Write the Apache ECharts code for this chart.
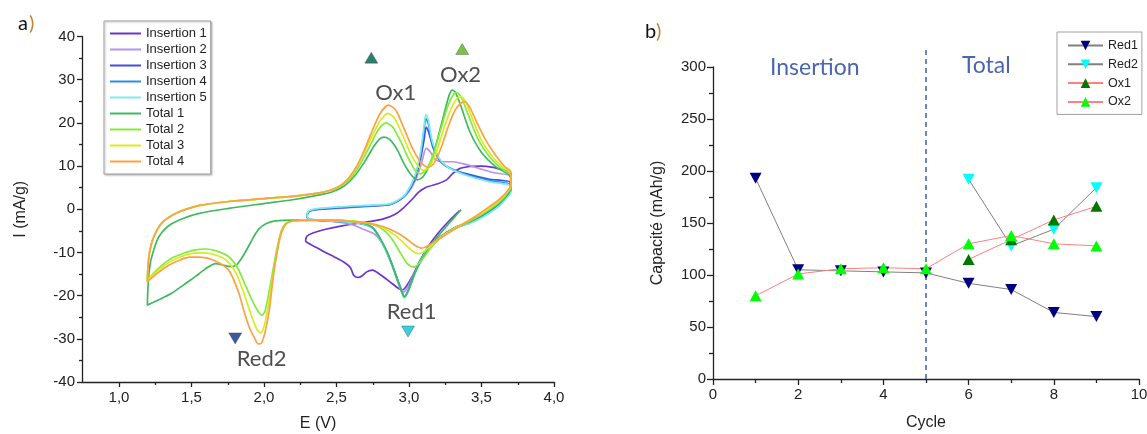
<!DOCTYPE html>
<html><head><meta charset="utf-8">
<script src="https://cdn.jsdelivr.net/npm/echarts/dist/echarts.min.js"></script>
<style>html,body{margin:0;padding:0;background:#fff}#c{width:1147px;height:434px}</style>
</head><body><div id="c"></div>
<script>
// ================= DATA =================
// Panel a) cyclic voltammograms: [E (V), I (mA/g)]
const insertion1 = [[3.35,-0.3],[3.28,-2.6],[3.2,-5.6],[3.13,-8.8],[3.07,-12.5],[3.02,-15.8],[2.98,-18.0],[2.955,-18.7],[2.92,-18.1],[2.87,-16.8],[2.81,-15.3],[2.75,-14.1],[2.71,-14.5],[2.68,-15.4],[2.65,-15.8],[2.62,-15.3],[2.6,-13.6],[2.56,-12.4],[2.49,-11.1],[2.42,-9.9],[2.35,-8.6],[2.3,-7.7],[2.29,-7.3],[2.3,-6.2],[2.34,-5.5],[2.42,-4.7],[2.55,-3.8],[2.7,-3.0],[2.82,-2.3],[2.9,-1.3],[2.96,0.2],[3.02,2.2],[3.07,4.0],[3.12,5.1],[3.2,5.9],[3.26,6.8],[3.3,8.2],[3.35,9.4],[3.42,9.9],[3.5,10.0],[3.58,9.7],[3.65,9.1],[3.7,8.6],[3.705,6.5],[3.69,4.3],[3.63,2.0],[3.55,0.0],[3.45,-2.2],[3.35,-3.9],[3.25,-5.5]];
const insertion2 = [[3.7,4.3],[3.62,1.2],[3.52,-1.2],[3.42,-3.0],[3.32,-4.4],[3.22,-6.2],[3.15,-8.3],[3.09,-11.2],[3.04,-14.6],[3.0,-17.6],[2.965,-19.2],[2.94,-17.8],[2.9,-14.0],[2.86,-10.6],[2.82,-8.0],[2.77,-5.9],[2.7,-4.8],[2.61,-3.6],[2.5,-2.9],[2.4,-2.6],[2.31,-2.3],[2.3,-1.6],[2.31,-0.6],[2.36,-0.1],[2.5,0.2],[2.7,0.6],[2.86,1.1],[2.94,2.2],[3.0,4.0],[3.05,7.0],[3.09,11.0],[3.12,14.1],[3.15,13.2],[3.18,11.6],[3.23,11.0],[3.3,11.0],[3.38,10.5],[3.48,9.5],[3.58,8.5],[3.7,7.6],[3.7,4.3]];
const insertion3 = [[3.7,4.0],[3.62,1.0],[3.52,-1.4],[3.42,-3.1],[3.32,-4.2],[3.22,-6.4],[3.14,-8.6],[3.08,-11.8],[3.04,-14.8],[3.0,-18.5],[2.97,-20.3],[2.94,-18.0],[2.89,-13.3],[2.85,-10.0],[2.82,-7.9],[2.78,-5.5],[2.75,-4.2],[2.68,-3.4],[2.6,-3.0],[2.45,-2.7],[2.32,-2.4],[2.3,-1.8],[2.31,-0.6],[2.36,-0.1],[2.5,0.3],[2.7,0.7],[2.86,1.0],[2.93,2.0],[2.98,3.4],[3.04,6.8],[3.08,11.5],[3.105,16.0],[3.12,19.0],[3.14,17.5],[3.17,14.0],[3.22,11.0],[3.28,9.5],[3.4,8.2],[3.55,7.0],[3.7,6.2],[3.7,4.0]];
const insertion4 = [[3.7,3.8],[3.62,0.8],[3.52,-1.5],[3.42,-3.2],[3.32,-4.3],[3.22,-6.5],[3.14,-8.7],[3.08,-11.9],[3.04,-15.0],[3.0,-18.6],[2.97,-20.4],[2.94,-18.1],[2.89,-13.4],[2.85,-10.1],[2.82,-8.0],[2.78,-5.6],[2.75,-4.3],[2.68,-3.4],[2.6,-3.0],[2.45,-2.7],[2.32,-2.4],[2.3,-1.8],[2.31,-0.5],[2.36,0.0],[2.5,0.4],[2.7,0.8],[2.86,1.1],[2.93,2.1],[2.98,3.5],[3.04,7.2],[3.08,12.5],[3.1,17.0],[3.118,21.0],[3.135,19.8],[3.16,15.5],[3.21,11.6],[3.28,9.6],[3.4,8.0],[3.55,6.7],[3.7,5.7],[3.7,3.8]];
const insertion5 = [[3.7,3.6],[3.62,0.7],[3.52,-1.6],[3.42,-3.3],[3.32,-4.4],[3.22,-6.6],[3.14,-8.8],[3.08,-12.0],[3.04,-15.1],[3.0,-18.7],[2.97,-20.5],[2.94,-18.2],[2.89,-13.5],[2.85,-10.2],[2.82,-8.1],[2.78,-5.7],[2.75,-4.3],[2.68,-3.4],[2.6,-3.0],[2.45,-2.7],[2.32,-2.3],[2.3,-1.7],[2.31,-0.4],[2.36,0.1],[2.5,0.5],[2.7,0.9],[2.86,1.2],[2.93,2.2],[2.98,3.6],[3.04,7.5],[3.08,13.0],[3.1,18.0],[3.118,22.0],[3.135,20.6],[3.16,16.0],[3.21,11.8],[3.28,9.5],[3.4,7.8],[3.55,6.4],[3.7,5.3],[3.7,3.6]];
const total1 = [[3.36,-0.1],[3.3,-2.4],[3.22,-5.5],[3.15,-8.4],[3.09,-11.6],[3.04,-15.0],[3.0,-18.6],[2.97,-20.3],[2.94,-18.0],[2.89,-13.3],[2.85,-9.8],[2.81,-7.2],[2.77,-5.0],[2.72,-3.6],[2.62,-2.8],[2.45,-2.5],[2.2,-2.5],[2.08,-2.7],[2.02,-3.3],[1.97,-4.5],[1.93,-6.5],[1.89,-9.0],[1.85,-11.3],[1.81,-13.0],[1.77,-13.3],[1.72,-12.9],[1.67,-12.6],[1.6,-13.8],[1.53,-15.6],[1.45,-17.5],[1.37,-19.4],[1.29,-20.8],[1.2,-22.2],[1.205,-17.5],[1.22,-12.5],[1.25,-8.8],[1.28,-6.3],[1.34,-4.0],[1.42,-2.5],[1.55,-1.0],[1.76,0.2],[2.0,1.3],[2.2,2.2],[2.35,3.1],[2.47,4.0],[2.56,5.5],[2.63,7.8],[2.7,11.2],[2.76,14.6],[2.8,16.3],[2.83,16.7],[2.87,16.1],[2.92,13.8],[2.97,10.4],[3.02,7.8],[3.06,6.8],[3.1,7.6],[3.15,10.8],[3.2,16.5],[3.25,23.0],[3.28,26.6],[3.3,27.6],[3.32,27.1],[3.36,23.8],[3.42,18.0],[3.5,13.2],[3.6,9.8],[3.7,7.6],[3.705,5.5],[3.69,3.8],[3.62,1.3],[3.52,-1.0],[3.42,-2.9],[3.32,-4.3],[3.25,-5.6]];
const total2 = [[1.2,-16.8],[1.205,-13],[1.215,-10],[1.236,-7.1],[1.27,-4.6],[1.31,-2.8],[1.38,-1.2],[1.45,-0.2],[1.56,0.9],[1.76,1.8],[2.02,2.5],[2.2,3.0],[2.35,3.6],[2.46,4.4],[2.55,5.8],[2.62,8.0],[2.68,11.3],[2.74,15.2],[2.79,18.4],[2.845,20.0],[2.89,19.0],[2.95,15.3],[3.0,11.6],[3.04,9.2],[3.08,8.2],[3.12,9.2],[3.17,12.8],[3.22,18.5],[3.27,24.0],[3.31,26.7],[3.33,27.0],[3.36,26.1],[3.41,21.8],[3.48,16.0],[3.56,12.0],[3.64,9.4],[3.7,8.0],[3.705,5.8],[3.69,4.3],[3.62,1.6],[3.52,-0.8],[3.42,-2.7],[3.32,-4.5],[3.22,-6.6],[3.15,-9.0],[3.09,-11.8],[3.035,-13.4],[2.99,-12.6],[2.94,-10.0],[2.89,-7.2],[2.84,-5.2],[2.78,-3.9],[2.7,-3.1],[2.58,-2.7],[2.4,-2.5],[2.25,-2.6],[2.18,-2.9],[2.15,-3.4],[2.12,-5.2],[2.09,-9.5],[2.06,-15.0],[2.03,-20.6],[2.01,-23.6],[1.99,-24.5],[1.96,-23.5],[1.92,-21.0],[1.87,-17.2],[1.82,-13.5],[1.76,-11.0],[1.68,-9.7],[1.6,-9.2],[1.53,-9.4],[1.45,-10.2],[1.37,-11.3],[1.3,-13.0],[1.24,-14.9],[1.2,-16.8]];
const total3 = [[1.2,-16.8],[1.205,-13],[1.215,-10],[1.236,-7.1],[1.27,-4.6],[1.31,-2.8],[1.38,-1.2],[1.45,-0.2],[1.56,0.9],[1.76,1.8],[2.02,2.5],[2.2,3.0],[2.35,3.6],[2.46,4.4],[2.55,6.0],[2.62,8.6],[2.68,12.2],[2.74,16.4],[2.8,20.3],[2.855,22.2],[2.9,21.2],[2.96,17.0],[3.01,13.0],[3.06,10.2],[3.1,9.0],[3.14,9.8],[3.19,13.2],[3.24,18.5],[3.29,23.2],[3.33,25.6],[3.36,26.0],[3.39,25.0],[3.44,20.8],[3.5,16.0],[3.58,12.0],[3.65,9.7],[3.7,8.4],[3.705,6.0],[3.69,4.5],[3.62,1.9],[3.52,-0.5],[3.42,-2.4],[3.32,-4.3],[3.22,-6.4],[3.15,-8.5],[3.1,-9.9],[3.07,-10.3],[3.03,-9.8],[2.98,-8.3],[2.92,-6.4],[2.85,-4.8],[2.78,-3.7],[2.7,-3.1],[2.58,-2.7],[2.4,-2.5],[2.25,-2.6],[2.18,-2.9],[2.15,-3.6],[2.12,-5.8],[2.09,-10.5],[2.06,-16.5],[2.03,-22.8],[2.005,-27.0],[1.98,-28.7],[1.95,-27.5],[1.91,-24.0],[1.86,-19.0],[1.81,-14.8],[1.75,-12.0],[1.67,-10.6],[1.58,-10.1],[1.51,-10.2],[1.43,-11.0],[1.35,-12.3],[1.28,-14.0],[1.22,-15.8],[1.2,-16.8]];
const total4 = [[1.2,-16.8],[1.205,-13],[1.215,-10],[1.236,-7.1],[1.27,-4.6],[1.31,-2.8],[1.38,-1.2],[1.45,-0.2],[1.56,0.9],[1.76,1.8],[2.02,2.5],[2.2,3.0],[2.35,3.6],[2.46,4.4],[2.55,6.0],[2.62,8.8],[2.68,12.6],[2.74,17.5],[2.8,22.0],[2.86,24.1],[2.91,23.0],[2.96,19.3],[3.02,14.5],[3.08,11.0],[3.13,9.7],[3.17,10.5],[3.22,14.0],[3.27,19.0],[3.32,23.0],[3.36,24.6],[3.385,24.9],[3.42,23.6],[3.47,20.0],[3.53,16.0],[3.6,12.4],[3.66,9.9],[3.7,8.8],[3.705,6.2],[3.69,4.7],[3.62,2.2],[3.52,-0.2],[3.44,-2.1],[3.32,-4.5],[3.22,-6.6],[3.16,-7.9],[3.09,-9.0],[3.04,-8.3],[2.98,-6.7],[2.9,-5.1],[2.82,-4.0],[2.72,-3.2],[2.63,-2.9],[2.45,-2.5],[2.25,-2.6],[2.18,-2.9],[2.14,-4.0],[2.11,-7.0],[2.08,-12.5],[2.06,-17.5],[2.04,-23.3],[2.01,-28.5],[1.985,-31.0],[1.965,-31.2],[1.935,-29.6],[1.9,-27.2],[1.86,-23.0],[1.83,-19.4],[1.76,-14.1],[1.65,-11.7],[1.56,-11.1],[1.49,-11.1],[1.42,-11.8],[1.35,-12.9],[1.27,-14.8],[1.2,-16.8]];
const cvNames = ['Insertion 1','Insertion 2','Insertion 3','Insertion 4','Insertion 5','Total 1','Total 2','Total 3','Total 4'];

// Panel a) peak annotations (label, E, I)
const peakLabels = ['Ox1','Ox2','Red1','Red2'];
const peakLabelE = [2.91, 3.357, 3.02, 1.987];
const peakLabelI = [26.9, 31.1, -23.7, -34.6];
const peakMarkE = [2.742, 3.368, 2.995, 1.805];
const peakMarkI = [35.1, 37.1, -28.3, -29.9];

// Panel b) capacity vs cycle
const cycles = [1,2,3,4,5,6,7,8,9];
const red1 = [193,105,104,103,102,92,86,64,60];
const red2 = [null,null,null,null,null,192,128,144,184];
const ox1  = [null,null,null,null,null,115,134,153,166];
const ox2  = [80,101,106,107,106,130,138,130,128];
const phaseLimit = 5;

// ================= CHART =================
const FONT = 'Liberation Sans, Arial, sans-serif';
const cvColors = ['#6d35cc','#b492f0','#3f4fe4','#2b8de8','#7eeaea','#3dbb5c','#84ea3c','#d6ec22','#ffa043'];
const cvData = [insertion1,insertion2,insertion3,insertion4,insertion5,total1,total2,total3,total4];
const downTri = 'path://M0,0L10,0L5,9Z';
const upTri = 'path://M5,0L10,9L0,9Z';
const axisLineStyle = {color:'#222', width:1.3};
const lblStyle = {color:'#222', fontSize:15, fontFamily:FONT};
const nameStyle = {fontSize:16, fontFamily:FONT, color:'#222'};

const series = [];
cvData.forEach((d,i)=>{
  series.push({name:cvNames[i], type:'line', xAxisIndex:0, yAxisIndex:0, data:d,
    symbol:'none', smooth:0.25, lineStyle:{color:cvColors[i], width:1.7}, itemStyle:{color:cvColors[i]}, z:2+i});
});
// peak triangles
const markColors = ['#2c7c6f','#7cc247','#38cfe0','#3c5b9c'];
series.push({type:'scatter', xAxisIndex:0, yAxisIndex:0, z:20, silent:true,
  data: peakLabels.map((n,i)=>({value:[peakMarkE[i], peakMarkI[i]], symbol: n.startsWith('Ox')?upTri:downTri,
    itemStyle:{color:markColors[i], opacity:1, borderColor:'rgba(60,60,60,0.6)', borderWidth:0.6}})),
  symbolSize:[13,11]});
series.push({type:'scatter', xAxisIndex:0, yAxisIndex:0, z:21, silent:true, symbolSize:0,
  data: peakLabels.map((n,i)=>({name:n, value:[peakLabelE[i], peakLabelI[i]]})),
  label:{show:true, position:'inside', formatter:'{b}', fontSize:22, fontFamily:'Lato, sans-serif', color:'#222'}});

// Panel b
function pairs(arr){ return cycles.map((c,i)=>[c, arr[i]]); }
const capSeries = [
  ['Red1', red1, '#000080', '#808080', downTri],
  ['Red2', red2, '#00ffff', '#808080', downTri],
  ['Ox1',  ox1,  '#007800', '#ff8080', upTri],
  ['Ox2',  ox2,  '#00ff00', '#ff8080', upTri]
];
capSeries.forEach(s=>{
  series.push({name:s[0], type:'line', xAxisIndex:2, yAxisIndex:2, data:pairs(s[1]),
    symbol:s[4], symbolSize:[12,11], showAllSymbol:true,
    lineStyle:{color:s[3], width:1}, itemStyle:{color:s[2], opacity:1}, z:10});
});
series.push({type:'line', xAxisIndex:3, yAxisIndex:3, data:[[phaseLimit,0],[phaseLimit,1]], symbol:'none', silent:true,
  lineStyle:{color:'#4466bb', width:1.6, type:[5,4]}, z:5});

const gridBase = {containLabel:false, outerBoundsMode:'none'};
const option = {
  animation:false,
  backgroundColor:'#fff',
  grid:[
    Object.assign({left:82, top:36.5, width:472, height:345.5}, gridBase),
    Object.assign({left:119, top:36.5, width:435, height:345.5}, gridBase),
    Object.assign({left:713, top:67, width:426, height:312}, gridBase),
    Object.assign({left:713, top:50, width:426, height:329}, gridBase)
  ],
  xAxis:[
    {gridIndex:0, type:'value', min:0.75, max:4, splitLine:{show:false}, axisLine:{onZero:false, lineStyle:axisLineStyle},
     axisTick:{show:false}, axisLabel:{show:false},
     name:'E (V)', nameLocation:'middle', nameGap:34, nameTextStyle:nameStyle},
    {gridIndex:1, type:'value', min:1, max:4, interval:0.5, splitLine:{show:false}, axisLine:{show:false, onZero:false},
     axisTick:{show:true, length:5, lineStyle:axisLineStyle}, minorTick:{show:true, splitNumber:2, length:3, lineStyle:axisLineStyle},
     axisLabel:Object.assign({margin:8, formatter:v=>v.toFixed(1).replace('.',',')}, lblStyle)},
    {gridIndex:2, type:'value', min:0, max:10, interval:2, splitLine:{show:false}, axisLine:{onZero:false, lineStyle:axisLineStyle},
     axisTick:{length:6, lineStyle:axisLineStyle}, minorTick:{show:true, splitNumber:2, length:4, lineStyle:axisLineStyle},
     axisLabel:Object.assign({margin:8}, lblStyle),
     name:'Cycle', nameLocation:'middle', nameGap:36, nameTextStyle:nameStyle},
    {gridIndex:3, type:'value', min:0, max:10, show:false}
  ],
  yAxis:[
    {gridIndex:0, type:'value', min:-40, max:40, interval:10, splitLine:{show:false}, axisLine:{onZero:false, lineStyle:axisLineStyle},
     axisTick:{length:5, lineStyle:axisLineStyle}, minorTick:{show:true, splitNumber:2, length:3, lineStyle:axisLineStyle},
     axisLabel:Object.assign({margin:7}, lblStyle),
     name:'I (mA/g)', nameLocation:'middle', nameGap:53, nameTextStyle:nameStyle},
    {gridIndex:1, type:'value', min:-40, max:40, show:false},
    {gridIndex:2, type:'value', min:0, max:300, interval:50, splitLine:{show:false}, axisLine:{show:true, onZero:false, lineStyle:axisLineStyle},
     axisTick:{show:true, length:6, lineStyle:axisLineStyle}, minorTick:{show:true, splitNumber:2, length:4, lineStyle:axisLineStyle},
     axisLabel:Object.assign({margin:7}, lblStyle),
     name:'Capacité (mAh/g)', nameLocation:'middle', nameGap:47, nameTextStyle:nameStyle},
    {gridIndex:3, type:'value', min:0, max:1, show:false}
  ],
  legend:[
    {data:cvNames, orient:'vertical', left:104, top:21, itemWidth:31, itemHeight:2, itemGap:3, icon:'rect',
     padding:[6,4,6,6], borderColor:'#a0a0a0', borderWidth:1, backgroundColor:'#fff',
     shadowColor:'rgba(0,0,0,0.25)', shadowBlur:2, shadowOffsetX:1, shadowOffsetY:1,
     textStyle:{fontSize:13, fontFamily:FONT, color:'#222'}, selectedMode:false},
    {data:['Red1','Red2','Ox1','Ox2'], orient:'vertical', left:1057, top:32, itemWidth:35, itemHeight:12, itemGap:5.8,
     padding:[7,4,6,10], borderColor:'#a0a0a0', borderWidth:1, backgroundColor:'#fff',
     textStyle:{fontSize:12.5, fontFamily:FONT, color:'#222'}, selectedMode:false}
  ],
  graphic:[
    {type:'text', left:18, top:14, style:{text:'a', font:'20px Lato, sans-serif', fill:'#111'}},
    {type:'text', left:29, top:14, style:{text:')', font:'20px Lato, sans-serif', fill:'#c0822a'}},
    {type:'text', left:645, top:22, style:{text:'b', font:'20px Lato, sans-serif', fill:'#111'}},
    {type:'text', left:656, top:22, style:{text:')', font:'20px Lato, sans-serif', fill:'#c0822a'}},
    {type:'text', left:770, top:56, style:{text:'Insertion', font:'23px Lato, sans-serif', fill:'#4a66b2'}},
    {type:'text', left:962, top:54, style:{text:'Total', font:'23px Lato, sans-serif', fill:'#4a66b2'}}
  ],
  series:series
};
const chart = echarts.init(document.getElementById('c'), null, {renderer:'canvas'});
chart.setOption(option);
</script>
</body></html>
